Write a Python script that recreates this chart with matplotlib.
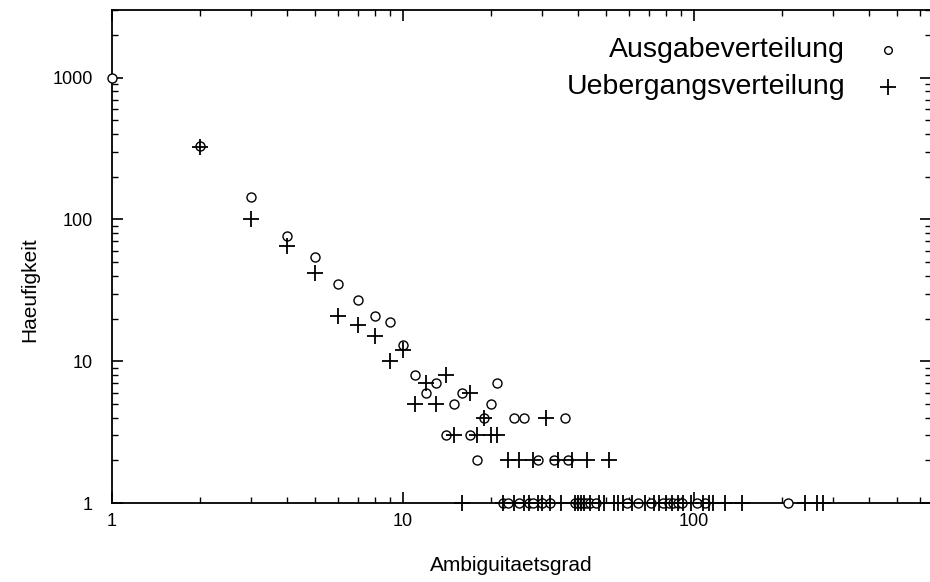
import matplotlib
matplotlib.use("Agg")
import matplotlib.pyplot as plt
from matplotlib.ticker import NullFormatter

plt.rcParams['font.family'] = ['Liberation Sans', 'DejaVu Sans']

# Ausgabeverteilung: Ambiguitaetsgrad -> Haeufigkeit
ausgabe_x = [1, 2, 3, 4, 5, 6, 7, 8, 9, 10, 11, 12, 13, 14, 15, 16, 17, 18, 19, 20,
             21, 22, 23, 24, 25, 26, 27, 28, 29, 30, 32, 33, 36, 37, 39, 40, 41, 42,
             43, 44, 46, 59, 64, 71, 78, 82, 85, 88, 91, 102, 109, 210]
ausgabe_y = [1000, 330, 143, 77, 54, 35, 27, 21, 19, 13, 8, 6, 7, 3, 5, 6, 3, 2, 4, 5,
             7, 1, 1, 4, 1, 4, 1, 1, 2, 1, 1, 2, 4, 2, 1, 1, 1, 1,
             1, 1, 1, 1, 1, 1, 1, 1, 1, 1, 1, 1, 1, 1]

# Uebergangsverteilung
uebergang_x = [2, 3, 4, 5, 6, 7, 8, 9, 10, 11, 12, 13, 14, 15, 16, 17, 18, 19, 20, 21,
               22, 23, 24, 25, 26, 27, 28, 29, 30, 31, 32, 34, 35, 38, 39, 40, 41, 42,
               43, 44, 47, 49, 51, 53, 55, 57, 61, 68, 73, 76, 80, 84, 88, 92, 98,
               107, 113, 116, 128, 146, 240, 265, 277]
uebergang_y = [325, 100, 65, 42, 21, 18, 15, 10, 12, 5, 7, 5, 8, 3, 1, 6, 3, 4, 3, 3,
               1, 2, 1, 2, 1, 1, 2, 1, 1, 4, 1, 2, 1, 2, 1, 1, 1, 1,
               2, 1, 1, 1, 2, 1, 1, 1, 1, 1, 1, 1, 1, 1, 1, 1, 1,
               1, 1, 1, 1, 1, 1, 1, 1]

labels = ['Ausgabeverteilung', 'Uebergangsverteilung']
x_ticks = [1, 10, 100]
y_ticks = [1, 10, 100, 1000]

fig = plt.figure(figsize=(9.3, 5.82), dpi=100)
# right border sits just past the picture edge, like the reference crop
ax = fig.add_axes([112 / 930, 79 / 582, 819 / 930, 493 / 582])

ax.plot(ausgabe_x, ausgabe_y, 'o', ms=6.5, mfc='white', mec='black', mew=1.0,
        clip_on=False, zorder=3)
ax.plot(uebergang_x, uebergang_y, '+', ms=11, mec='black', mew=1.3,
        clip_on=False, zorder=4)

ax.set_xscale('log')
ax.set_yscale('log')
ax.set_xlim(1, 652)
ax.set_ylim(1, 3000)

ax.set_xticks(x_ticks, [str(t) for t in x_ticks])
ax.set_yticks(y_ticks, [str(t) for t in y_ticks])
ax.xaxis.set_minor_formatter(NullFormatter())
ax.yaxis.set_minor_formatter(NullFormatter())
ax.tick_params(which='both', direction='in', top=True, right=True, colors='black',
               labelsize=13)
ax.tick_params(which='major', length=8, width=1.2)
ax.tick_params(which='minor', length=4, width=1.0)
ax.tick_params(axis='y', pad=14)
ax.tick_params(axis='x', pad=7)
for s in ax.spines.values():
    s.set_linewidth(1.3)

ax.set_xlabel('Ambiguitaetsgrad', fontsize=15)
ax.set_ylabel('Haeufigkeit', fontsize=15)
ax.xaxis.set_label_coords(0.488, -0.126)
ax.xaxis.label.set_va('center')
ax.yaxis.set_label_coords(-0.100, 0.432)
ax.yaxis.label.set_va('center')

# key in the gnuplot style: label right-aligned, symbol to its right
ax.text(0.895, 0.919, labels[0], transform=ax.transAxes, ha='right', va='center',
        fontsize=20.5)
ax.plot([0.948], [0.919], 'o', ms=5.5, mfc='white', mec='black', mew=1.0,
        transform=ax.transAxes)
ax.text(0.895, 0.844, labels[1], transform=ax.transAxes, ha='right', va='center',
        fontsize=20.5)
ax.plot([0.948], [0.844], '+', ms=11, mec='black', mew=1.3,
        transform=ax.transAxes)

fig.savefig('out.png', dpi=100)
